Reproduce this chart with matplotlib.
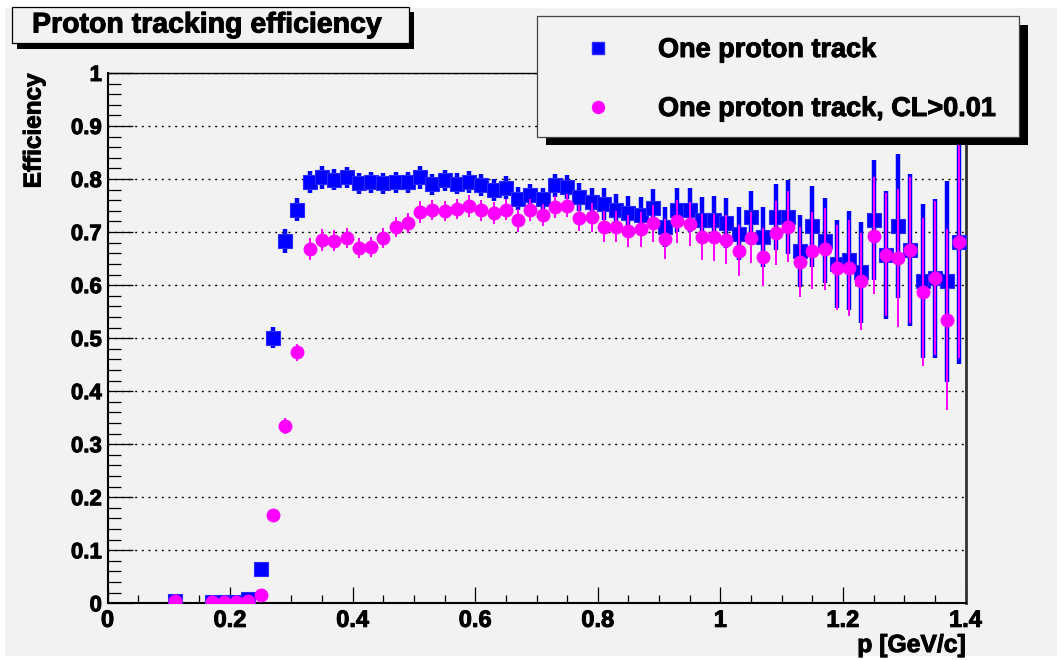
import numpy as np
import matplotlib
matplotlib.use('Agg')
import matplotlib.pyplot as plt
import matplotlib.patheffects as pe
from matplotlib.patches import Rectangle
from matplotlib.lines import Line2D
from matplotlib.ticker import MultipleLocator, FuncFormatter

plt.rcParams['font.family'] = ['Liberation Sans', 'DejaVu Sans']
plt.rcParams['font.weight'] = 'bold'

# momentum bin centres [GeV/c]
p = [0.11, 0.17, 0.19, 0.21, 0.23, 0.25, 0.27, 0.29, 0.31,
     0.33, 0.35, 0.37, 0.39, 0.41, 0.43, 0.45, 0.47, 0.49, 0.51,
     0.53, 0.55, 0.57, 0.59, 0.61, 0.63, 0.65, 0.67, 0.69, 0.71,
     0.73, 0.75, 0.77, 0.79, 0.81, 0.83, 0.85, 0.87, 0.89, 0.91,
     0.93, 0.95, 0.97, 0.99, 1.01, 1.03, 1.05, 1.07, 1.09, 1.11,
     1.13, 1.15, 1.17, 1.19, 1.21, 1.23, 1.25, 1.27, 1.29, 1.31,
     1.33, 1.35, 1.37, 1.39]

# one proton track
eff_all = [0.005, 0.002, 0.003, 0.003, 0.008, 0.064, 0.501, 0.683, 0.742,
           0.795, 0.803, 0.799, 0.803, 0.792, 0.794, 0.792, 0.794, 0.794, 0.803,
           0.790, 0.798, 0.791, 0.794, 0.789, 0.780, 0.784, 0.763, 0.769, 0.762,
           0.788, 0.785, 0.766, 0.756, 0.753, 0.742, 0.736, 0.733, 0.746, 0.710,
           0.742, 0.742, 0.723, 0.723, 0.717, 0.697, 0.728, 0.691, 0.728, 0.728,
           0.664, 0.711, 0.684, 0.639, 0.647, 0.624, 0.723, 0.657, 0.711, 0.666,
           0.608, 0.613, 0.607, 0.682]
err_all = [0.003, 0.003, 0.003, 0.003, 0.004, 0.010, 0.020, 0.022, 0.022,
           0.021, 0.021, 0.020, 0.020, 0.020, 0.020, 0.020, 0.020, 0.020, 0.021,
           0.020, 0.020, 0.020, 0.021, 0.021, 0.021, 0.021, 0.022, 0.022, 0.022,
           0.022, 0.023, 0.026, 0.028, 0.030, 0.030, 0.032, 0.034, 0.036, 0.038,
           0.041, 0.042, 0.044, 0.045, 0.047, 0.050, 0.050, 0.056, 0.062, 0.070,
           0.068, 0.076, 0.080, 0.083, 0.093, 0.095, 0.113, 0.120, 0.136, 0.144,
           0.145, 0.150, 0.190, 0.230]

# one proton track, CL>0.01
eff_cl = [0.004, 0.002, 0.003, 0.002, 0.005, 0.016, 0.166, 0.334, 0.473,
          0.668, 0.685, 0.684, 0.689, 0.670, 0.672, 0.689, 0.709, 0.717, 0.738,
          0.742, 0.739, 0.744, 0.749, 0.741, 0.736, 0.742, 0.722, 0.741, 0.732,
          0.747, 0.750, 0.727, 0.728, 0.710, 0.710, 0.702, 0.705, 0.717, 0.687,
          0.720, 0.715, 0.691, 0.690, 0.686, 0.665, 0.689, 0.653, 0.698, 0.710,
          0.644, 0.665, 0.668, 0.633, 0.632, 0.607, 0.693, 0.657, 0.651, 0.666,
          0.587, 0.613, 0.535, 0.682]
err_cl = [0.002, 0.002, 0.002, 0.002, 0.003, 0.006, 0.012, 0.015, 0.016,
          0.020, 0.020, 0.019, 0.019, 0.019, 0.019, 0.019, 0.019, 0.019, 0.020,
          0.019, 0.019, 0.019, 0.020, 0.020, 0.020, 0.020, 0.021, 0.021, 0.021,
          0.021, 0.022, 0.025, 0.027, 0.029, 0.029, 0.031, 0.033, 0.035, 0.037,
          0.040, 0.041, 0.043, 0.044, 0.046, 0.048, 0.048, 0.054, 0.060, 0.067,
          0.066, 0.073, 0.077, 0.080, 0.090, 0.092, 0.110, 0.116, 0.130, 0.138,
          0.140, 0.145, 0.170, 0.220]

W, H = 1063, 660
bg = '#f2f2f2'
heavy = [pe.withStroke(linewidth=0.7, foreground='black')]

def fbox(x0, y0, x1, y1):
    # pixel box (top-left origin) -> figure fraction rectangle args
    return (x0 / W, 1 - y1 / H), (x1 - x0) / W, (y1 - y0) / H

fig = plt.figure(figsize=(W / 100, H / 100), dpi=100, facecolor='white')
xy, w, h = fbox(5, 8, 1057, 656)
fig.patches.append(Rectangle(xy, w, h, transform=fig.transFigure, facecolor=bg, edgecolor='none', zorder=-10))

ax = fig.add_axes([107.5 / W, (H - 603.3) / H, (965.5 - 107.5) / W, (603.3 - 73) / H])
ax.set_facecolor('none')
ax.set_xlim(0, 1.4)
ax.set_ylim(0, 1)

ax.errorbar(p, eff_all, yerr=err_all, xerr=0.01, fmt='s', color='blue', ms=9.6,
            mec='#2a2aff', mew=0.8, elinewidth=3.2, capsize=0, zorder=3)
ax.errorbar(p, eff_cl, yerr=err_cl, fmt='o', color='magenta', ms=9.0,
            mec='magenta', elinewidth=1.4, capsize=0, zorder=4)

ax.xaxis.set_major_locator(MultipleLocator(0.2))
ax.xaxis.set_minor_locator(MultipleLocator(0.05))
ax.yaxis.set_major_locator(MultipleLocator(0.1))
ax.yaxis.set_minor_locator(MultipleLocator(0.02))
fmt = FuncFormatter(lambda v, pos: '%g' % round(v, 2))
ax.xaxis.set_major_formatter(fmt)
ax.yaxis.set_major_formatter(fmt)
ax.tick_params(axis='x', which='major', direction='in', length=11.5, width=0.9, labelsize=17, pad=4)
ax.tick_params(axis='x', which='minor', direction='in', length=5.8, width=0.9)
ax.tick_params(axis='y', which='major', direction='in', length=18, width=0.9, labelsize=16, pad=4)
ax.tick_params(axis='y', which='minor', direction='in', length=9.4, width=0.9)
ax.tick_params(top=False, right=False, which='both')
for lab in ax.get_xticklabels() + ax.get_yticklabels():
    lab.set_path_effects(heavy)

ax.yaxis.grid(True, which='major', color='black', linestyle=(0, (1.4, 3.4)), linewidth=1.0)
ax.set_axisbelow(True)

for s in ['left', 'bottom']:
    ax.spines[s].set_linewidth(1.5)
ax.spines['top'].set_linewidth(1.0)
ax.spines['right'].set_linewidth(2.0)
ax.spines['right'].set_color('#333333')

fig.text(34 / W, 1 - 73 / H, 'Efficiency', rotation=90, ha='center', va='top',
         fontsize=17.5, fontweight='bold', path_effects=heavy)
fig.text(966 / W, 1 - 652 / H, 'p [GeV/c]', ha='right', va='baseline',
         fontsize=17.8, fontweight='bold', path_effects=heavy)

# title box with shadow
xy, w, h = fbox(17, 12, 414, 49)
fig.patches.append(Rectangle(xy, w, h, transform=fig.transFigure, facecolor='black', edgecolor='none'))
xy, w, h = fbox(12, 7, 409, 43)
fig.patches.append(Rectangle(xy, w, h, transform=fig.transFigure, facecolor=bg, edgecolor='black', linewidth=0.9))
fig.text(207 / W, 1 - 32.5 / H, 'Proton tracking efficiency', ha='center', va='baseline',
         fontsize=20.5, fontweight='bold', path_effects=heavy)

# legend box with shadow
xy, w, h = fbox(546, 25, 1028, 145)
fig.patches.append(Rectangle(xy, w, h, transform=fig.transFigure, facecolor='black', edgecolor='none'))
xy, w, h = fbox(537, 16, 1019, 137)
fig.patches.append(Rectangle(xy, w, h, transform=fig.transFigure, facecolor=bg, edgecolor='#444444', linewidth=0.9))
fig.add_artist(Line2D([598 / W], [1 - 48 / H], marker='s', ms=9.1, color='blue', mec='#2a2aff',
                      ls='none', transform=fig.transFigure))
fig.add_artist(Line2D([598 / W], [1 - 107 / H], marker='o', ms=8.6, color='magenta',
                      ls='none', transform=fig.transFigure))
fig.text(658 / W, 1 - 57 / H, 'One proton track', ha='left', va='baseline',
         fontsize=19.5, fontweight='bold', path_effects=heavy)
fig.text(658 / W, 1 - 116 / H, 'One proton track, CL>0.01', ha='left', va='baseline',
         fontsize=19.5, fontweight='bold', path_effects=heavy)

fig.savefig('out.png', dpi=100, facecolor=fig.get_facecolor())
